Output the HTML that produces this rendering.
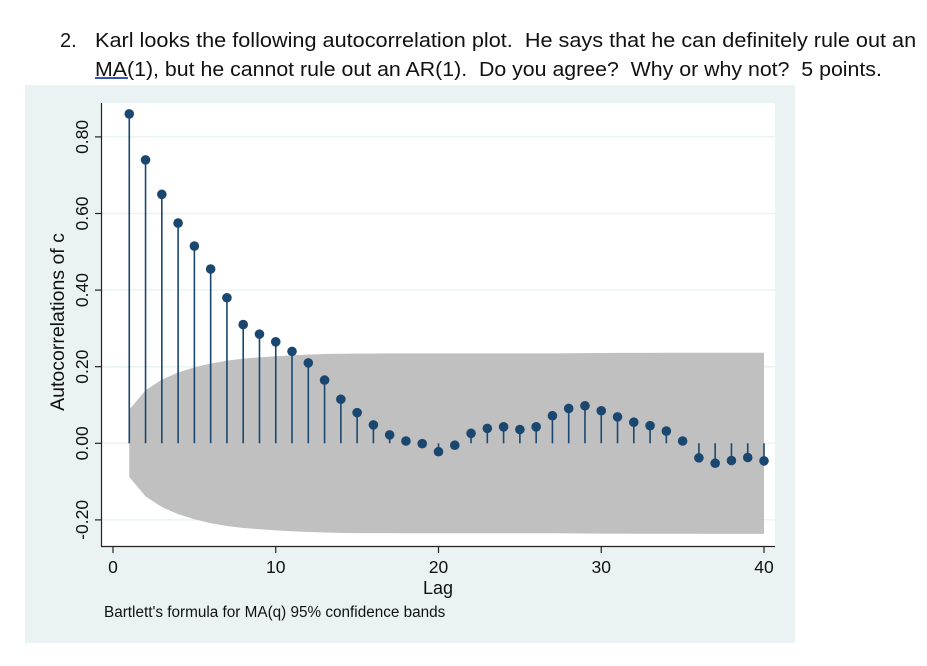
<!DOCTYPE html>
<html><head><meta charset="utf-8"><style>
body{margin:0;width:927px;height:666px;background:#fff;overflow:hidden;font-family:"Liberation Sans",sans-serif}
.q{position:absolute;font-size:20px;color:#111;white-space:nowrap;transform:scaleX(1.083);transform-origin:0 0}
</style></head><body>
<div class="q" style="left:60px;top:30px;transform:none">2.</div>
<div class="q" style="left:95px;top:30px">Karl looks the following autocorrelation plot.&nbsp; He says that he can definitely rule out an</div>
<div class="q" style="left:95px;top:59px;transform:scaleX(1.066)"><span style="text-decoration:underline;text-decoration-color:#3355aa">MA(</span>1), but he cannot rule out an AR(1).&nbsp; Do you agree?&nbsp; Why or why not?&nbsp; 5 points.</div>
<svg id="chart" width="927" height="666" style="position:absolute;left:0;top:0">
<rect x="25" y="85" width="770" height="558" fill="#eaf2f3"/>
<rect x="102" y="103" width="673" height="443" fill="#fff"/>
<g id="g"></g>
</svg>
<script>
const lags=[1,2,3,4,5,6,7,8,9,10,11,12,13,14,15,16,17,18,19,20,21,22,23,24,25,26,27,28,29,30,31,32,33,34,35,36,37,38,39,40];
const acf=[0.86,0.74,0.65,0.575,0.515,0.455,0.38,0.31,0.285,0.265,0.24,0.21,0.165,0.115,0.08,0.048,0.022,0.006,-0.001,-0.022,-0.005,0.026,0.039,0.043,0.036,0.043,0.072,0.091,0.098,0.085,0.069,0.055,0.046,0.032,0.006,-0.038,-0.052,-0.045,-0.037,-0.046];
const yTicks=[-0.2,0,0.2,0.4,0.6,0.8];
const yLabels=["-0.20","0.00","0.20","0.40","0.60","0.80"];
const xTicks=[0,10,20,30,40];
const nObs=496;
const X=v=>113+v*16.275;
const Y=v=>443.3-v*383;
const g=document.getElementById('g');
const NS='http://www.w3.org/2000/svg';
function mk(t,a){const e=document.createElementNS(NS,t);for(const k in a)e.setAttribute(k,a[k]);g.appendChild(e);return e;}
yTicks.forEach((t,i)=>{
 const l=mk('line',{x1:102,x2:775,y1:Y(t),y2:Y(t),stroke:'#eaf2f3','stroke-width':1.5});
 
 
});
let s=0,up=[],lo=[];
lags.forEach((k,i)=>{const se=1.96*Math.sqrt((1+2*s)/nObs);up.push([X(k),Y(se)]);lo.push([X(k),Y(-se)]);s+=acf[i]*acf[i];});
let d='M'+up.map(p=>p.join(',')).join('L')+'L'+lo.reverse().map(p=>p.join(',')).join('L')+'Z';
const band=mk('path',{d:d,fill:'#c0c0c0'});


lags.forEach((k,i)=>{
 const st=mk('line',{x1:X(k),x2:X(k),y1:Y(0),y2:Y(acf[i]),stroke:'#1a476f','stroke-width':1.6});
 
 
 const c=mk('circle',{cx:X(k),cy:Y(acf[i]),r:4.8,fill:'#1a476f'});
 
 
});
const ya=mk('line',{x1:101.5,x2:101.5,y1:103,y2:546.5,stroke:'#222','stroke-width':1.2});


const xa=mk('line',{x1:101,x2:775,y1:546.5,y2:546.5,stroke:'#222','stroke-width':1.2});


yTicks.forEach((t,i)=>{
 const tk=mk('line',{x1:95,x2:101,y1:Y(t),y2:Y(t),stroke:'#222','stroke-width':1.2});
 
 
 const tx=mk('text',{x:0,y:0,transform:`translate(88,${Y(t)}) rotate(-90)`,'text-anchor':'middle','font-size':17.5,fill:'#111','font-family':'Liberation Sans, sans-serif'});
 tx.textContent=yLabels[i];
 
 
});
xTicks.forEach(t=>{
 const tk=mk('line',{x1:X(t),x2:X(t),y1:546.5,y2:553,stroke:'#222','stroke-width':1.2});
 
 
 const tx=mk('text',{x:X(t),y:573,'text-anchor':'middle','font-size':17.5,fill:'#111','font-family':'Liberation Sans, sans-serif'});
 tx.textContent=t;
 
 
});
const xt=mk('text',{x:438,y:594,'text-anchor':'middle','font-size':18,fill:'#111','font-family':'Liberation Sans, sans-serif'});
xt.textContent='Lag';


const yt=mk('text',{x:0,y:0,transform:'translate(64,322) rotate(-90)','text-anchor':'middle','font-size':19.5,fill:'#111','font-family':'Liberation Sans, sans-serif'});
yt.textContent='Autocorrelations of c';


const nt=mk('text',{x:104,y:617,'font-size':15.3,fill:'#111','font-family':'Liberation Sans, sans-serif'});
nt.textContent="Bartlett's formula for MA(q) 95% confidence bands";


</script>
</body></html>
